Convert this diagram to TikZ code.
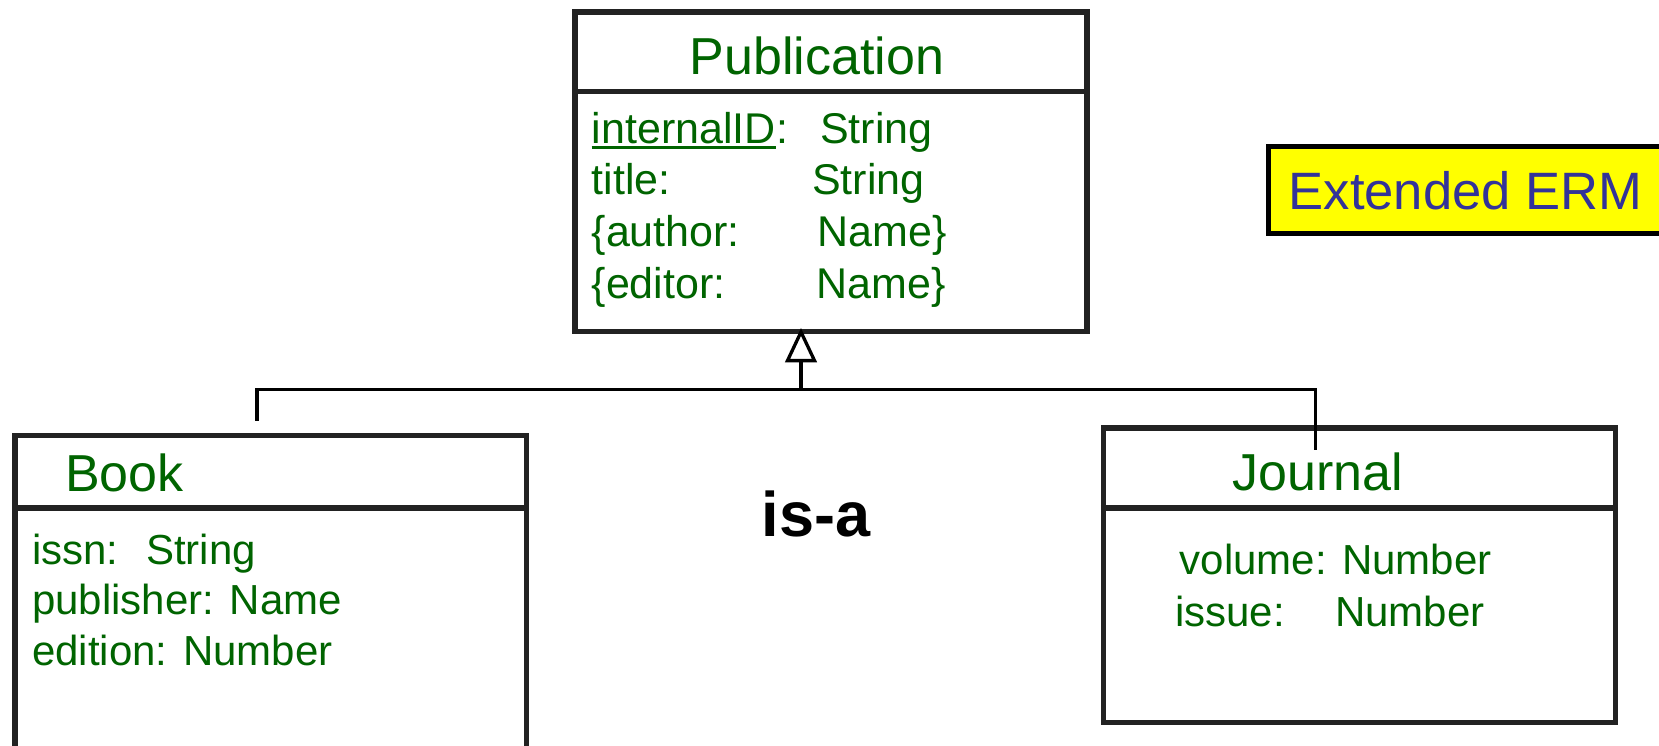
\documentclass[tikz,border=0pt]{standalone}
\usepackage{fontspec}
\setmainfont{Liberation Sans}
\usetikzlibrary{calc}
\definecolor{txtgreen}{RGB}{0,100,0}
\definecolor{ermblue}{RGB}{51,51,153}
\definecolor{boxgray}{RGB}{34,34,34}
\definecolor{ermyellow}{RGB}{255,255,0}
\begin{document}
\begin{tikzpicture}[x=1pt,y=-1pt,
  umlbox/.style={draw=boxgray, line width=5.5pt, inner sep=0pt, fill=white},
  divider/.style={draw=boxgray, line width=5.5pt},
  conn/.style={draw=black, line width=3.3pt, line join=miter},
  ctitle/.style={text=txtgreen, font=\fontsize{52pt}{60pt}\selectfont, inner sep=0pt, anchor=base west},
  attr/.style={text=txtgreen, font=\fontsize{43pt}{50pt}\selectfont, inner sep=0pt, anchor=base west},
  sattr/.style={text=txtgreen, font=\fontsize{42pt}{50pt}\selectfont, inner sep=0pt, anchor=base west},
  ulstyle/.style={draw=txtgreen, line width=3pt},
]
\useasboundingbox (0,0) rectangle (1659,746);
\fill[white] (0,0) rectangle (1659,746);

% boxes
\node[umlbox, minimum width=512pt, minimum height=319.7pt] (pub) at (831,171.85) {};
\draw[divider] (pub.west |- 0,91.7) -- (pub.east |- 0,91.7);

\node[umlbox, minimum width=511.7pt, minimum height=364.5pt] (book) at (270.65,617.75) {};
\draw[divider] (book.west |- 0,508) -- (book.east |- 0,508);

\node[umlbox, minimum width=511.6pt, minimum height=294.3pt] (journal) at (1359.5,575.15) {};
\draw[divider] (journal.west |- 0,508) -- (journal.east |- 0,508);

\node[draw=black, line width=4.7pt, fill=ermyellow, inner sep=0pt, minimum width=600pt, minimum height=86.5pt] (erm) at (1568.3,190.05) {};
\node[text=ermblue, font=\fontsize{52.6pt}{60pt}\selectfont, anchor=base west, inner sep=0pt] (ermtext) at (1288.5,210) {Extended ERM};

% Publication
\node[ctitle, anchor=base] (pubtitle) at (817,75) {Publication};
\node[attr] (iid) at (591.5,143.3) {internalID};
\node[attr] (iidc) at (iid.base east) {:};
\node[attr] (t1) at (820,143.3) {String};
\draw[ulstyle] ([yshift=-4.5pt]iid.base west) -- ([yshift=-4.5pt]iid.base east);
\node[attr] (a2) at (591.5,195) {title:};
\node[attr] (t2) at (812,195) {String};
\node[attr] (a3) at (591.5,246.5) {\{author:};
\node[attr] (t3) at (817.4,246.5) {Name\}};
\node[attr] (a4) at (591.5,298) {\{editor:};
\node[attr] (t4) at (816.7,298) {Name\}};

% Book
\node[ctitle] (booktitle) at (65,491) {Book};
\node[sattr] (b1) at (32,564) {issn:};
\node[sattr] (b1t) at (146,564) {String};
\node[sattr] (b2) at (32,614.5) {publisher: Name};
\node[sattr] (b3) at (32,665) {edition: Number};

% Journal
\node[ctitle] (jtitle) at (1232.6,490) {Journal};
\node[sattr] (j1) at (1179.5,574.3) {volume: Number};
\node[sattr] (j2) at (1175,626.7) {issue:};
\node[sattr] (j2t) at (1335,626.7) {Number};

% is-a
\node[font=\bfseries\fontsize{63pt}{70pt}\selectfont, anchor=base, inner sep=0pt] (isa) at (816,536.7) {is-a};

% connectors
\coordinate (tip) at (801,332);
\coordinate (trbase) at (801,360.6);
\coordinate (junc) at (801,389.7);
\coordinate (bookend) at (257,420.7);
\coordinate (jrnend) at (1315.3,450);
\draw[conn] (bookend) |- (junc) -| (jrnend);
\draw[conn] (junc) -- (trbase);
\draw[conn, fill=white] (tip) -- ($(trbase)+(-13.5,0)$) -- ($(trbase)+(13.5,0)$) -- cycle;
\end{tikzpicture}
\end{document}
